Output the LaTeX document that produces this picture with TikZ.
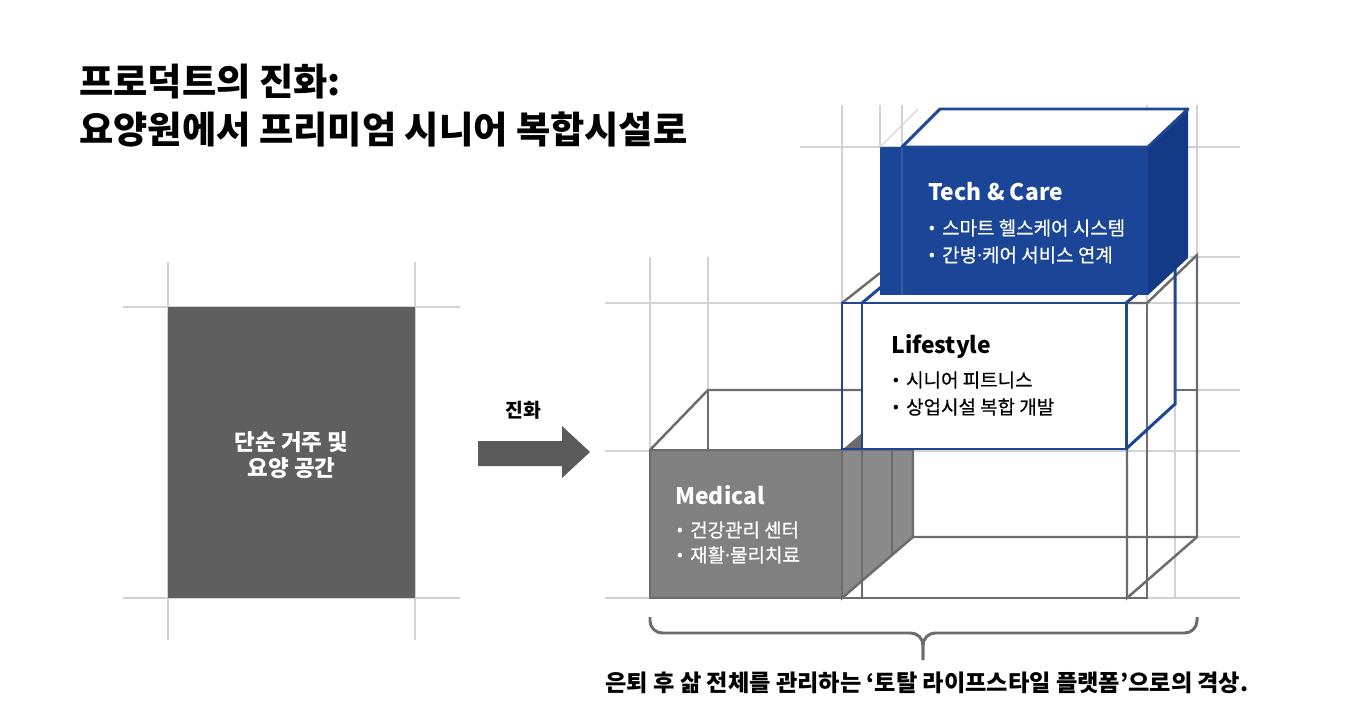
\documentclass[tikz,border=0pt]{standalone}
\usepackage{fontspec}
\setmainfont{Noto Sans CJK KR}
\newfontfamily\medfont{Noto Sans CJK KR}[FakeBold=0.5]
\newfontfamily\latinfont{Noto Sans}
\newcommand{\mdot}{{\latinfont\textperiodcentered}}
\newcommand{\bdot}{{\latinfont\textbullet}\hspace{0.35em}}
\definecolor{guidegray}{HTML}{D2D2D2}
\definecolor{wiregray}{HTML}{6C6C6C}
\definecolor{plaingray}{HTML}{5F5F5F}
\definecolor{arrowgray}{HTML}{5A5A5A}
\definecolor{medgray}{HTML}{808080}
\definecolor{medside}{HTML}{8A8A8A}
\definecolor{techblue}{HTML}{1B4597}
\definecolor{techside}{HTML}{123A86}
\definecolor{lineblue}{HTML}{1E4693}

\begin{document}
\begin{tikzpicture}[x=0.02cm,y=-0.02cm,
		guide/.style={draw=guidegray,line width=0.6pt},
		wire/.style={draw=wiregray,line width=1.4pt},
		blueline/.style={draw=lineblue,line width=1.7pt},
		head/.style={anchor=west,inner sep=0pt,font=\fontsize{13}{15}\selectfont\bfseries},
		bul/.style={anchor=west,inner sep=0pt,font=\fontsize{10.8}{12}\medfont}]
		\useasboundingbox[fill=white] (0,0) rectangle (1347,717);
		\foreach \gy/\ga/\gb in {147/800/1240, 257/1190/1240, 303/605/1240, 390/1197/1240, 451/605/1240, 537/1197/1240, 598/605/1240, 307/123/460, 598/123/460}
			\draw[guide] (\ga,\gy) -- (\gb,\gy);
		\foreach \gx/\ga/\gb in {168/262/640, 415/262/640, 650/257/450, 708/257/390, 842/105/303, 880/105/147, 902/105/147, 1147/105/303, 1197/105/255, 1175/404/598}
			\draw[guide] (\gx,\ga) -- (\gx,\gb);
		\fill[plaingray] (168,307) rectangle (415,598);
		\node[text=white,align=center,font=\fontsize{12.8}{14.5}\selectfont\bfseries] (plain) at (291.5,455) {단순 거주 및\\요양 공간};
		\fill[arrowgray] (478,441) -- (562,441) -- (562,426) -- (590,452) -- (562,478) -- (562,466) -- (478,466) -- cycle;
		\node[font=\fontsize{11}{13}\selectfont\bfseries] (evo) at (523,410) {진화};
		\draw[wire] (842,303) -- (880,273);
		\draw[wire] (1126,303) -- (1147,303) -- (1197,255) -- (1197,537) -- (913,537);
		\draw[wire] (1147,303) -- (1147,598) -- (650,598);
		\draw[wire] (1127,449) -- (1127,598) -- (1197,537);
		\draw[wire] (1175,390) -- (1197,390);
		\filldraw[wire,fill=medside] (842,450) -- (913,450) -- (913,537) -- (842,598) -- cycle;
		\draw[wire] (862,450) -- (862,598);
		\draw[wire] (892,450) -- (892,555);
		\filldraw[wire,fill=medgray] (650,450) rectangle (842,598);
		\draw[wire] (650,450) -- (708,390) -- (862,390);
		\draw[wire] (708,390) -- (708,450);
		\fill[white] (862,303) rectangle (1126,449);
		\fill[wiregray] (842,450) -- (862,433) -- (862,450) -- cycle;
		\draw[blueline] (862,303) -- (911,262) -- (1175,262);
		\draw[blueline] (1126,303) -- (1175,262) -- (1175,404) -- (1126,449);
		\draw[blueline] (842,303) rectangle (1126,449);
		\draw[blueline] (862,303) -- (862,449);
		\fill[techside] (1148,147) -- (1188,109) -- (1188,258) -- (1148,295) -- cycle;
		\fill[techblue] (880,147) rectangle (1148,295);
		\draw[white,opacity=0.12,line width=0.8pt] (902,147) -- (902,295);
		\draw[guide] (880,147) -- (918,109);
		\filldraw[blueline,fill=white,line join=round] (902,147) -- (940,109) -- (1188,109) -- (1148,147) -- cycle;
		\node[head,text=white] (tech) at (928,192) {Tech \& Care};
		\node[bul,text=white] (techA) at (928,228) {\bdot 스마트 헬스케어 시스템};
		\node[bul,text=white] (techB) at (928,255) {\bdot 간병\mdot 케어 서비스 연계};
		\node[head] (life) at (891,347) {Lifestyle};
		\node[bul] (lifeA) at (892,380) {\bdot 시니어 피트니스};
		\node[bul] (lifeB) at (892,407) {\bdot 상업시설 복합 개발};
		\node[head,text=white] (med) at (675,495) {Medical};
		\node[bul,text=white] (medA) at (676,530) {\bdot 건강관리 센터};
		\node[bul,text=white] (medB) at (676,555) {\bdot 재활\mdot 물리치료};
		\draw[draw=wiregray,line width=1.7pt,rounded corners=7pt] (650,617) -- (650,633) -- (923,633) -- (923,660);
		\draw[draw=wiregray,line width=1.7pt,rounded corners=7pt] (1197,617) -- (1197,633) -- (923,633) -- (923,660);
		\node[font=\fontsize{13.2}{15}\selectfont\bfseries] (sum) at (927,683) {은퇴 후 삶 전체를 관리하는 ‘토탈 라이프스타일 플랫폼’으로의 격상.};
		\node[anchor=west,inner sep=0pt,font=\fontsize{21.2}{25}\selectfont\bfseries] (ttlA) at (79,82) {프로덕트의 진화:};
		\node[anchor=west,inner sep=0pt,font=\fontsize{21.2}{25}\selectfont\bfseries] (ttlB) at (79,129) {요양원에서 프리미엄 시니어 복합시설로};
	\end{tikzpicture}
\end{document}
